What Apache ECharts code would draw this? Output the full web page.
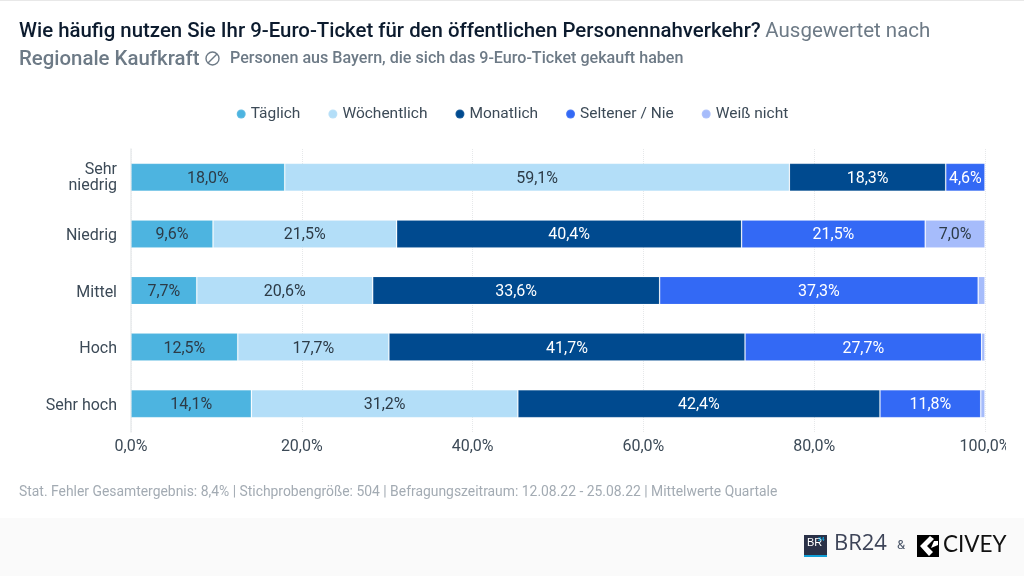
<!DOCTYPE html>
<html>
<head>
<meta charset="utf-8">
<style>
html, body { margin: 0; padding: 0; background: #fff; }
#chart { width: 1024px; height: 576px; }
</style>
<script src="https://cdn.jsdelivr.net/npm/echarts@6/dist/echarts.min.js"></script>
</head>
<body>
<div id="chart"></div>
<script>
var categories = ['Sehr\nniedrig', 'Niedrig', 'Mittel', 'Hoch', 'Sehr hoch'];
var taeglich = [18.0, 9.6, 7.7, 12.5, 14.1];
var woechentlich = [59.1, 21.5, 20.6, 17.7, 31.2];
var monatlich = [18.3, 40.4, 33.6, 41.7, 42.4];
var seltener = [4.6, 21.5, 37.3, 27.7, 11.8];
var weissNicht = [0, 7.0, 0.8, 0.4, 0.5];

var seriesNames = ['Täglich', 'Wöchentlich', 'Monatlich', 'Seltener / Nie', 'Weiß nicht'];
var seriesValues = [taeglich, woechentlich, monatlich, seltener, weissNicht];
var seriesColors = ['#4db4e0', '#b3def8', '#004a8f', '#3369f5', '#a6bcfb'];
var labelColors = ['#2d3b47', '#2d3b47', '#ffffff', '#ffffff', '#2d3b47'];

var font = 'Roboto';
var myChart = echarts.init(document.getElementById('chart'));

function pct(v) {
    return v.toFixed(1).replace('.', ',') + '%';
}

var catStyle = { fontFamily: font, fontSize: 16, color: '#3c4a57', lineHeight: 18, align: 'right' };

var option = {
    backgroundColor: '#fff',
    animation: false,
    textStyle: { fontFamily: font },
    title: [{
        left: 14, top: 16,
        text: '{a|Wie häufig nutzen Sie Ihr 9-Euro-Ticket für den öffentlichen Personennahverkehr?} {b|Ausgewertet nach}',
        textStyle: { rich: {
            a: { fontFamily: font, fontSize: 20.4, fontWeight: 500, color: '#0c1b2e' },
            b: { fontFamily: font, fontSize: 20.5, fontWeight: 400, color: '#6d7a86' }
        } }
    }, {
        left: 14, top: 45,
        text: 'Regionale Kaufkraft',
        textStyle: { fontFamily: font, fontSize: 20.4, fontWeight: 500, color: '#6d7a86' }
    }, {
        left: 225, top: 46,
        text: 'Personen aus Bayern, die sich das 9-Euro-Ticket gekauft haben',
        textStyle: { fontFamily: font, fontSize: 16.1, fontWeight: 500, color: '#6d7a86' }
    }, {
        left: 14, top: 481,
        text: 'Stat. Fehler Gesamtergebnis: 8,4% | Stichprobengröße: 504 | Befragungszeitraum: 12.08.22 - 25.08.22 | Mittelwerte Quartale',
        textStyle: { fontFamily: font, fontSize: 13.9, fontWeight: 400, color: '#a3abb3' }
    }],
    legend: {
        top: 101, left: 'center',
        icon: 'circle',
        itemWidth: 9, itemHeight: 9, itemGap: 27,
        textStyle: { fontFamily: font, fontSize: 15.5, color: '#3c4a57' },
        data: seriesNames
    },
    grid: { left: 131, right: 39, top: 149, bottom: 144 },
    xAxis: {
        type: 'value', min: 0, max: 100, interval: 20,
        axisLine: { show: false },
        axisTick: { show: false },
        axisLabel: {
            fontFamily: font, fontSize: 16, color: '#3c4a57', margin: 7,
            formatter: function (v) { return pct(v); }
        },
        splitLine: { lineStyle: { color: '#e6e8ea', type: 'dotted' } }
    },
    yAxis: {
        type: 'category', inverse: true, data: categories,
        axisLine: { show: true, lineStyle: { color: '#e9ebec', width: 1.5 } },
        axisTick: { show: false },
        axisLabel: {
            margin: 14,
            // top padding on the first line pushes the labels down a little
            formatter: function (v) {
                return v.split('\n').map(function (line, i) {
                    return (i === 0 ? '{a|' : '{b|') + line + '}';
                }).join('\n');
            },
            rich: {
                a: Object.assign({ padding: [4, 0, 0, 0] }, catStyle),
                b: catStyle
            }
        }
    },
    series: seriesNames.map(function (name, i) {
        return {
            name: name, type: 'bar', stack: 'total', barWidth: 28,
            data: seriesValues[i],
            itemStyle: { color: seriesColors[i], borderColor: 'rgba(255,255,255,0.12)', borderWidth: 1 },
            label: {
                show: true, position: 'inside', offset: [0, 1.5],
                fontFamily: font, fontSize: 16, color: labelColors[i],
                formatter: function (p) { return p.value < 3 ? '' : pct(p.value); }
            }
        };
    }),
    graphic: [
        // outer frame
        { type: 'rect', z: -1, silent: true, shape: { x: 0, y: 518, width: 1024, height: 58 }, style: { fill: '#fafafa' } },
        { type: 'rect', z: -1, silent: true, shape: { x: 0, y: 0, width: 1024, height: 1 }, style: { fill: '#e8e8e8' } },
        // 100,0% is cut off at the right in the original
        { type: 'rect', z: 100, silent: true, shape: { x: 1006, y: 434, width: 18, height: 24 }, style: { fill: '#fff' } },
        // no-sign icon next to the title
        { type: 'circle', shape: { cx: 212.5, cy: 58.5, r: 6.5 }, style: { fill: 'none', stroke: '#6d7a86', lineWidth: 1.4 } },
        { type: 'line', shape: { x1: 208, y1: 63, x2: 217, y2: 54 }, style: { stroke: '#6d7a86', lineWidth: 1.4 } },
        // BR24 logo
        { type: 'rect', shape: { x: 804, y: 535, width: 23, height: 21 }, style: { fill: '#2a3147' } },
        { type: 'rect', shape: { x: 804, y: 555, width: 23, height: 2 }, style: { fill: '#10a0d8' } },
        { type: 'text', x: 807, y: 537, style: { text: 'BR', fontFamily: 'Liberation Sans', fontSize: 11, fill: '#fff' } },
        { type: 'text', x: 818, y: 536, style: { text: '24', fontFamily: 'Liberation Sans', fontSize: 6, fontWeight: 700, fill: '#10a0d8' } },
        { type: 'text', x: 834, y: 533, style: { text: 'BR24', fontFamily: 'Open Sans', fontSize: 22, fill: '#3d4458' } },
        { type: 'text', x: 897, y: 539, style: { text: '&', fontFamily: font, fontSize: 13, fill: '#4a5568' } },
        // Civey logo
        { type: 'rect', shape: { x: 917, y: 535, width: 22, height: 22 }, style: { fill: '#000' } },
        { type: 'polygon', shape: { points: [[930, 536], [920, 546], [929, 556], [933, 552], [927, 546], [934, 539]] }, style: { fill: '#fff' } },
        { type: 'polygon', shape: { points: [[934, 541], [938, 541], [938, 545], [931, 548]] }, style: { fill: '#fff' } },
        { type: 'text', x: 943, y: 533, style: { text: 'CIVEY', fontFamily: 'Lato', fontSize: 22.5, fill: '#111' } }
    ]
};

if (option && typeof option === "object") {
    myChart.setOption(option, true);
}
window.onresize = function () {
    myChart.resize();
};
</script>
</body>
</html>
